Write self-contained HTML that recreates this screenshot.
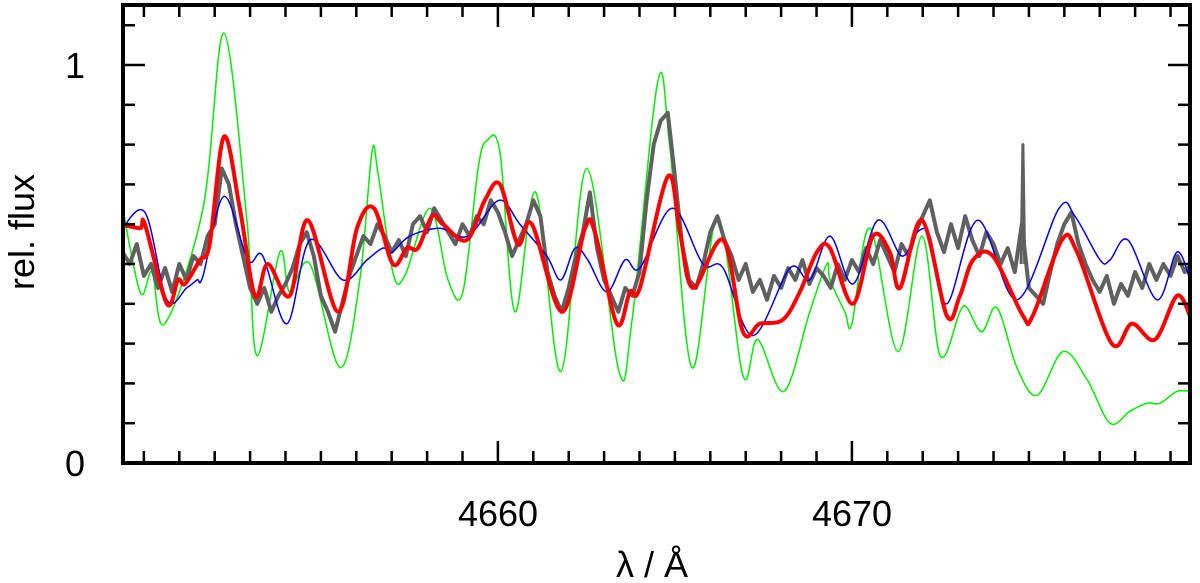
<!DOCTYPE html>
<html><head><meta charset="utf-8"><style>
body{margin:0;background:#fff;width:1200px;height:583px;overflow:hidden}
svg{display:block;font-family:"Liberation Sans",sans-serif}
</style></head><body>
<svg id="chart" width="1200" height="583">
<g id="plot"></g>
<g id="axes"></g>
<text x="75" y="78" font-size="36" text-anchor="middle">1</text>
<text x="75" y="476" font-size="36" text-anchor="middle">0</text>
<text x="498" y="526" font-size="36" text-anchor="middle">4660</text>
<text x="852" y="526" font-size="36" text-anchor="middle">4670</text>
<text x="652" y="577" font-size="36" text-anchor="middle">λ / Å</text>
<text transform="translate(34,232) rotate(-90)" font-size="36" text-anchor="middle">rel. flux</text>
</svg>
<script>
const xMin=4649.41, xMax=4679.55, yMin=0, yMax=1.1508;
const grayStart=4649.4, grayStep=0.2;
const grayFlux=[0.53,0.50,0.55,0.47,0.50,0.44,0.49,0.43,0.50,0.46,0.52,0.50,0.57,0.60,0.74,0.70,0.60,0.52,0.44,0.40,0.44,0.38,0.42,0.45,0.49,0.55,0.58,0.52,0.42,0.38,0.33,0.40,0.47,0.52,0.57,0.55,0.60,0.57,0.53,0.56,0.52,0.60,0.62,0.58,0.64,0.61,0.58,0.55,0.60,0.57,0.62,0.60,0.66,0.63,0.58,0.52,0.56,0.60,0.66,0.62,0.48,0.42,0.38,0.44,0.52,0.58,0.68,0.54,0.46,0.42,0.38,0.44,0.42,0.48,0.66,0.80,0.86,0.88,0.72,0.55,0.46,0.44,0.50,0.58,0.62,0.56,0.52,0.46,0.50,0.43,0.46,0.41,0.47,0.44,0.49,0.46,0.51,0.45,0.49,0.47,0.44,0.50,0.46,0.51,0.48,0.54,0.50,0.56,0.52,0.48,0.55,0.52,0.58,0.62,0.66,0.58,0.53,0.60,0.54,0.62,0.56,0.52,0.58,0.55,0.50,0.54,0.48,0.60,0.44,0.42,0.40,0.48,0.55,0.60,0.63,0.55,0.50,0.46,0.43,0.47,0.40,0.45,0.42,0.48,0.44,0.50,0.46,0.50,0.47,0.52,0.48,0.50];
const spikeLambda=[4674.78,4674.83,4674.88];
const spikeFlux=[0.50,0.80,0.50];
const greenLambda=[4649.32,4649.89,4650.23,4650.59,4651.67,4652.26,4652.91,4653.19,4653.84,4654.12,4654.69,4655.54,4656.10,4656.44,4656.61,4657.03,4657.37,4658.08,4658.59,4659.01,4659.44,4659.69,4660.06,4660.48,4661.07,4661.78,4662.51,4663.42,4663.79,4664.52,4664.86,4665.48,4666.21,4666.92,4667.34,4668.08,4668.81,4669.29,4669.38,4669.80,4670.00,4670.51,4671.30,4671.98,4672.49,4673.05,4673.25,4673.67,4674.10,4674.66,4675.23,4675.96,4676.64,4677.29,4677.85,4678.33,4678.70,4679.18,4679.55];
const greenFlux=[0.68,0.43,0.48,0.35,0.64,1.08,0.61,0.27,0.53,0.43,0.50,0.24,0.46,0.78,0.73,0.48,0.47,0.64,0.46,0.43,0.74,0.81,0.78,0.38,0.68,0.23,0.74,0.23,0.36,0.96,0.79,0.24,0.62,0.22,0.31,0.18,0.38,0.50,0.46,0.38,0.35,0.59,0.28,0.57,0.27,0.38,0.39,0.33,0.39,0.24,0.17,0.28,0.21,0.10,0.13,0.15,0.15,0.18,0.18];
const redLambda=[4649.32,4649.89,4650.03,4650.65,4650.96,4651.16,4651.58,4651.86,4652.26,4652.71,4653.14,4653.50,4654.12,4654.63,4655.48,4656.02,4656.50,4657.03,4657.43,4657.74,4658.14,4658.45,4659.12,4659.63,4660.06,4660.56,4660.96,4661.81,4662.46,4662.74,4663.36,4663.73,4664.01,4664.80,4665.14,4665.51,4666.36,4666.92,4667.40,4668.05,4668.53,4669.01,4669.38,4670.03,4670.59,4671.07,4671.36,4671.98,4672.68,4673.05,4673.42,4673.98,4674.83,4675.11,4675.93,4676.36,4677.34,4677.91,4678.56,4679.18,4679.55];
const redFlux=[0.60,0.59,0.60,0.40,0.46,0.45,0.51,0.55,0.82,0.64,0.42,0.50,0.42,0.61,0.38,0.59,0.64,0.50,0.54,0.54,0.62,0.60,0.56,0.66,0.70,0.55,0.60,0.38,0.59,0.58,0.35,0.43,0.44,0.72,0.58,0.44,0.56,0.33,0.35,0.36,0.43,0.53,0.54,0.40,0.57,0.53,0.44,0.61,0.37,0.42,0.51,0.52,0.37,0.37,0.56,0.53,0.30,0.35,0.31,0.42,0.37];
const blueLambda=[4649.32,4650.03,4650.65,4651.21,4651.50,4651.67,4652.26,4652.94,4653.36,4654.04,4654.69,4655.62,4656.30,4656.75,4657.01,4657.51,4658.36,4659.15,4660.03,4660.62,4661.38,4661.78,4662.18,4662.54,4663.08,4663.59,4664.01,4664.92,4665.79,4666.36,4667.20,4668.25,4668.81,4669.38,4670.03,4670.73,4671.41,4671.84,4672.20,4672.68,4673.56,4674.66,4675.85,4676.30,4677.01,4677.29,4677.80,4678.62,4679.18,4679.55];
const blueFlux=[0.58,0.63,0.41,0.44,0.46,0.47,0.67,0.51,0.52,0.35,0.56,0.46,0.51,0.54,0.53,0.57,0.59,0.57,0.66,0.60,0.52,0.46,0.54,0.51,0.43,0.51,0.49,0.64,0.50,0.49,0.32,0.49,0.46,0.57,0.45,0.61,0.52,0.58,0.57,0.40,0.61,0.41,0.64,0.62,0.51,0.51,0.56,0.41,0.53,0.46];
const xTicksMajor=[4660,4670];
const yTicksMajor=[0,1];

const L=123,R=1190,T=5,B=463;
const sx=v=>L+(v-xMin)/(xMax-xMin)*(R-L);
const sy=v=>B-(v-yMin)/(yMax-yMin)*(B-T);
const NS='http://www.w3.org/2000/svg';
const plot=document.getElementById('plot'), axes=document.getElementById('axes');
const clip=document.createElementNS(NS,'clipPath');clip.setAttribute('id','clp');
const cr=document.createElementNS(NS,'rect');cr.setAttribute('x',L);cr.setAttribute('y',T);cr.setAttribute('width',R-L);cr.setAttribute('height',B-T);
clip.appendChild(cr);document.getElementById('chart').appendChild(clip);
plot.setAttribute('clip-path','url(#clp)');
function smoothPath(xs,ys){
  const p=xs.map((x,i)=>[sx(x),sy(ys[i])]);
  let d='M'+p[0][0].toFixed(1)+','+p[0][1].toFixed(1);
  for(let i=0;i<p.length-1;i++){
    const p0=p[i-1]||p[i],p1=p[i],p2=p[i+1],p3=p[i+2]||p2;
    const c1=[p1[0]+(p2[0]-p0[0])/6,p1[1]+(p2[1]-p0[1])/6];
    const c2=[p2[0]-(p3[0]-p1[0])/6,p2[1]-(p3[1]-p1[1])/6];
    d+=' C'+c1.map(v=>v.toFixed(1))+' '+c2.map(v=>v.toFixed(1))+' '+p2.map(v=>v.toFixed(1));
  }
  return d;
}
function linePath(xs,ys){return xs.map((x,i)=>(i?'L':'M')+sx(x).toFixed(1)+','+sy(ys[i]).toFixed(1)).join(' ');}
function addPath(d,color,w,name){
  const el=document.createElementNS(NS,'path');
  el.setAttribute('d',d);el.setAttribute('fill','none');el.setAttribute('stroke',color);
  el.setAttribute('stroke-width',w);el.setAttribute('stroke-linejoin','round');
  
  
  plot.appendChild(el);
}
addPath(smoothPath(greenLambda,greenFlux),'#00ee00',1.5,'green-model-line');
const grayLambda=grayFlux.map((_,i)=>grayStart+i*grayStep);
addPath(linePath(grayLambda,grayFlux),'#606060',4,'observed-spectrum-line');
addPath(linePath(spikeLambda,spikeFlux),'#606060',3,'observed-spike');
addPath(smoothPath(blueLambda,blueFlux),'#0000ee',1.5,'blue-model-line');
addPath(smoothPath(redLambda,redFlux),'#ff0000',4,'red-model-line');
function ln(x1,y1,x2,y2,w,name){
  const el=document.createElementNS(NS,'line');
  el.setAttribute('x1',x1);el.setAttribute('y1',y1);el.setAttribute('x2',x2);el.setAttribute('y2',y2);
  el.setAttribute('stroke','#000');el.setAttribute('stroke-width',w);
  
  
  axes.appendChild(el);
}
for(let v=Math.ceil(xMin);v<=xMax;v++){
  const x=sx(v), len=xTicksMajor.includes(v)?22:12;
  ln(x,B,x,B-len,2.5,'x-tick');
  ln(x,T,x,T+len,2.5,'x-tick-top');
}
for(let k=0;k<=11;k++){
  const v=k/10, y=sy(v), len=yTicksMajor.includes(v)?22:12;
  ln(L,y,L+len,y,2.5,'y-tick');
  ln(R,y,R-len,y,2.5,'y-tick-right');
}
const fr=document.createElementNS(NS,'rect');
fr.setAttribute('x',L);fr.setAttribute('y',T);fr.setAttribute('width',R-L);fr.setAttribute('height',B-T);
fr.setAttribute('fill','none');fr.setAttribute('stroke','#000');fr.setAttribute('stroke-width',4);


axes.appendChild(fr);
</script>
</body></html>
